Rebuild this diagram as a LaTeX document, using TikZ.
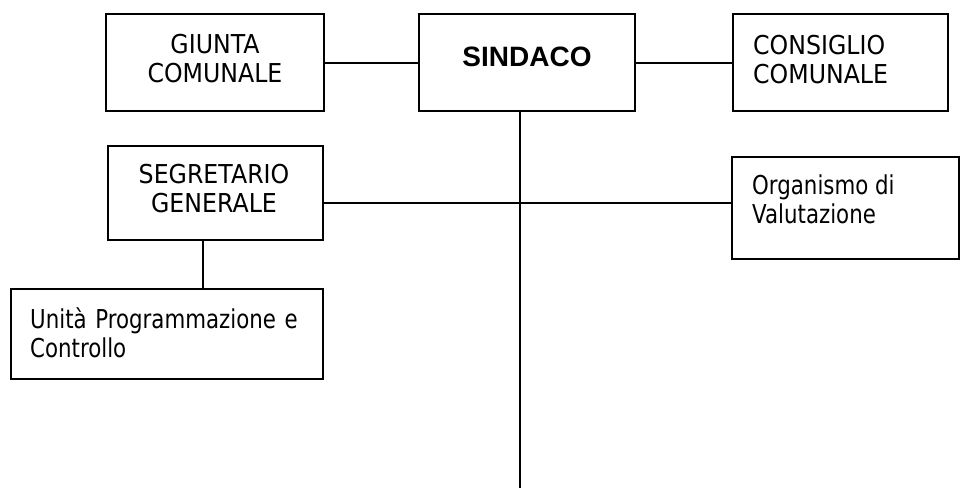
\documentclass[tikz,border=0pt]{standalone}
\usepackage{fontspec}
\setmainfont{DejaVu Sans}[FakeStretch=0.91]
\newfontfamily\narrowfont{DejaVu Sans}[FakeStretch=0.82]
\newfontfamily\arialfont{Liberation Sans}
\begin{document}
\begin{tikzpicture}[x=1pt,y=-1pt,
  orgbox/.style={draw=black, line width=2.2pt, rectangle, inner sep=0pt, anchor=north west},
  link/.style={draw=black, line width=2.2pt},
  boxtext/.style={inner sep=0pt, font=\fontsize{26}{29}\selectfont},
  lowertext/.style={inner sep=0pt, font=\fontsize{26}{29}\selectfont\narrowfont},
  titletext/.style={inner sep=0pt, font=\fontsize{28}{32}\selectfont\arialfont\bfseries}]
\useasboundingbox[fill=white] (0,0) rectangle (960,488);

% boxes
\node[orgbox, minimum width=218pt, minimum height=97pt] (giunta) at (105,13) {};
\node[orgbox, minimum width=216pt, minimum height=97pt] (sindaco) at (418,13) {};
\node[orgbox, minimum width=215pt, minimum height=97pt] (consiglio) at (732,13) {};
\node[orgbox, minimum width=215pt, minimum height=94pt] (segretario) at (107,145) {};
\node[orgbox, minimum width=227pt, minimum height=102pt] (organismo) at (731,156) {};
\node[orgbox, minimum width=312pt, minimum height=90pt] (unita) at (10,288) {};

% texts
\node[boxtext, align=center, anchor=north] (tgiunta) at (215,34) {GIUNTA\\COMUNALE};
\node[titletext, anchor=center] (tsindaco) at (527,57) {SINDACO};
\node[boxtext, align=left, anchor=north west] (tconsiglio) at (753,35) {CONSIGLIO\\COMUNALE};
\node[boxtext, align=center, anchor=north] (tsegretario) at (214,164) {SEGRETARIO\\GENERALE};
\node[lowertext, align=left, anchor=north west] (torganismo) at (752,175) {Organismo di\\Valutazione};
\node[lowertext, anchor=north west, text width=272pt] (tunita) at (30,307)
  {\makebox[272pt][s]{Unità Programmazione e}\\Controllo};

% coordinates for connector positions
\coordinate (bottom) at (520,488);
\coordinate (hline) at (0,203);
\coordinate (vx) at (203,0);

% connectors
\draw[link] (giunta.east) -- (sindaco.west);
\draw[link] (sindaco.east) -- (consiglio.west);
\draw[link] (sindaco.south -| bottom) -- (bottom);
\draw[link] (segretario.east |- hline) -- (organismo.west |- hline);
\draw[link] (segretario.south -| vx) -- (unita.north -| vx);
\end{tikzpicture}
\end{document}
